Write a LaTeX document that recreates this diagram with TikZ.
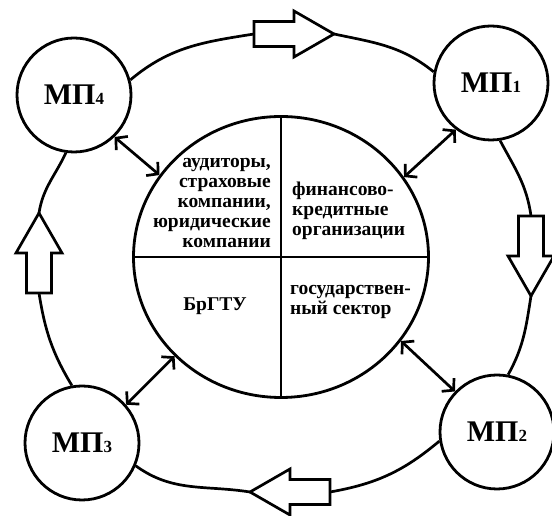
\documentclass[tikz,border=0pt]{standalone}
\usepackage{fontspec}
\setmainfont{Liberation Serif}
\usetikzlibrary{arrows.meta,shapes.geometric}
\newcommand\mpsub[1]{{\fontsize{17}{17}\selectfont #1}}
\tikzset{
  barrow/.pic={
    \draw[line width=2.7pt,line join=miter] (-40,12.5) -- (0,12.5) -- (0,23) -- (40,0) -- (0,-23) -- (0,-12.5) -- (-40,-12.5) -- cycle;
    \coordinate (-tail) at (-40,0);
    \coordinate (-tip) at (40,0);
  },
  mp/.style={circle,draw,line width=2.8pt,minimum size=114pt,inner sep=0pt,font=\fontsize{30}{30}\selectfont\bfseries},
  txt/.style={font=\fontsize{19.5}{20}\selectfont\bfseries,inner sep=0pt},
  ringline/.style={line width=2.7pt},
  link/.style={line width=2.7pt,{Straight Barb[length=8pt,width=18pt]}-{Straight Barb[length=8pt,width=18pt]}}
}
\begin{document}
\begin{tikzpicture}[x=1pt,y=1pt]
\useasboundingbox[fill=white] (0,0) rectangle (552,516);
% inner circle
\node[ellipse,draw,line width=2.8pt,minimum width=295pt,minimum height=281pt,inner sep=0pt] (inner) at (281,259) {};
\draw[line width=2.8pt] (inner.north) -- (inner.south);
\draw[line width=2.8pt] (inner.west) -- (inner.east);
% texts
\node[txt,anchor=east,align=right] (t1) at (271,313) {аудиторы,\\страховые\\компании,\\юридические\\компании};
\node[txt,anchor=west,align=left] (t2) at (292,305) {финансово-\\кредитные\\организации};
\node[txt] (t3) at (215,210) {БрГТУ};
\node[txt,anchor=west,align=left] (t4) at (290,214) {государствен-\\ный сектор};
% small circles
\node[mp] (mp4) at (74,421) {МП\mpsub{4}};
\node[mp] (mp1) at (491,433) {МП\mpsub{1}};
\node[mp] (mp3) at (82,73) {МП\mpsub{3}};
\node[mp] (mp2) at (497,84) {МП\mpsub{2}};
% block arrows
\pic (top) at (294,482) {barrow};
\pic[rotate=-90] (right) at (531,260) {barrow};
\pic[rotate=180] (bottom) at (290,24) {barrow};
\pic[rotate=90] (left) at (39,263) {barrow};
% ring
\draw[ringline] (mp4.15) to[out=40,in=189] (top-tail);
\draw[ringline] (top-tip) to[out=-12,in=141] (mp1.169);
\draw[ringline] (mp1.279) to[out=-62,in=98] (right-tail);
\draw[ringline] (right-tip) to[out=-99,in=61] (mp2.79);
\draw[ringline] (mp2.189) to[out=220,in=10] (bottom-tail);
\draw[ringline] (bottom-tip) to[out=171,in=-36] (mp3.337);
\draw[ringline] (mp3.100) to[out=121,in=-81] (left-tail);
\draw[ringline] (left-tip) to[out=81,in=245] (mp4.262);
% links
\draw[link] (mp4.314) -- (inner.146);
\draw[link] (mp1.233) -- (inner.33);
\draw[link] (mp3.41) -- (inner.223);
\draw[link] (mp2.136) -- (inner.325);
\end{tikzpicture}
\end{document}
